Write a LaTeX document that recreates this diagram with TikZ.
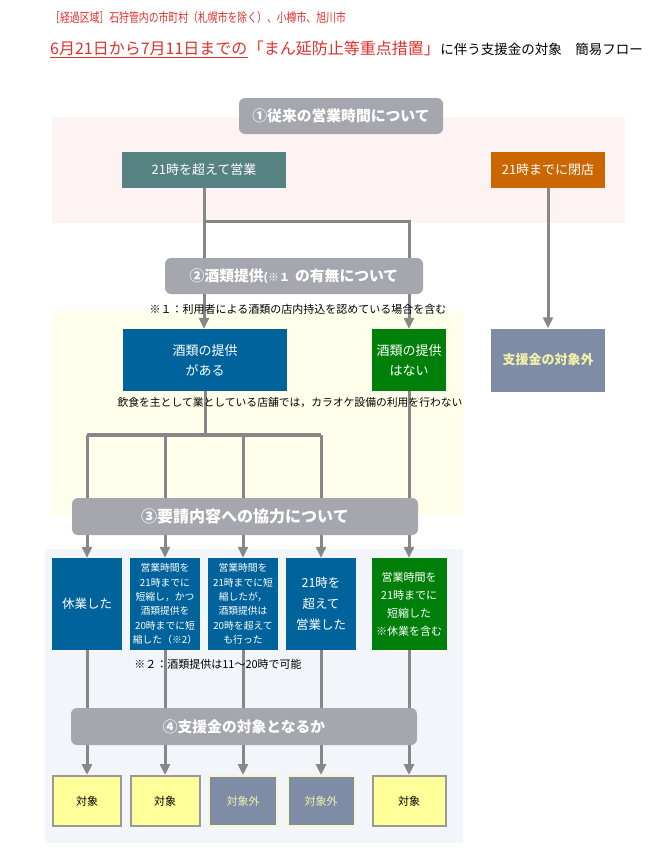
\documentclass[tikz,border=0pt]{standalone}
\usepackage{fontspec}
\setmainfont{Noto Sans CJK JP}
\newfontfamily\narrowjp[FakeStretch=0.77]{Noto Sans CJK JP}
\usepackage{xcolor}
\usetikzlibrary{positioning,arrows.meta,backgrounds}

\definecolor{hdrgray}{HTML}{A6A6AE}
\definecolor{tealc}{HTML}{568381}
\definecolor{orangec}{HTML}{CC6600}
\definecolor{slatec}{HTML}{7F8CA6}
\definecolor{bluec}{HTML}{00639C}
\definecolor{greenc}{HTML}{00800A}
\definecolor{okfill}{HTML}{FFFF99}
\definecolor{pinkbg}{HTML}{FEF3F3}
\definecolor{yellowbg}{HTML}{FFFFEB}
\definecolor{bluebg}{HTML}{F2F5FA}
\definecolor{linegray}{HTML}{878787}
\definecolor{titlered}{HTML}{E0302C}
\definecolor{paleyel}{HTML}{F2F2A6}

\begin{document}
\begin{tikzpicture}[x=1pt, y=-1pt,
    every node/.style={inner sep=0pt, align=center},
    hdrbox/.style={fill=hdrgray, rounded corners=6pt, text=white,
        font=\bfseries\fontsize{14.8}{16}\selectfont, minimum height=36pt},
    cell/.style={text=white, font=\fontsize{13}{20}\selectfont},
    note/.style={font=\fontsize{11}{12}\selectfont},
    okbox/.style={fill=okfill, draw=gray!80, line width=2pt,
        minimum height=50pt, font=\fontsize{11}{12}\selectfont},
    ngbox/.style={fill=slatec, draw=paleyel!60, line width=2pt, text=paleyel,
        minimum height=50pt, font=\fontsize{11}{12}\selectfont},
    link/.style={draw=linegray, line width=3pt},
    flow/.style={link, -{Triangle[length=11pt, width=10pt]}}
]
\useasboundingbox (0,0) rectangle (667,860);

% title
\node[anchor=west, text=titlered, font=\narrowjp\fontsize{12.8}{14}\selectfont] (areaT) at (50,18)
    {［経過区域］石狩管内の市町村（札幌市を除く）、小樽市、旭川市};
\node[anchor=base west, text=titlered, font=\fontsize{16}{18}\selectfont] (dateT) at (50,54)
    {6月21日から7月11日までの};
\node[anchor=base west, text=titlered, font=\fontsize{16}{18}\selectfont] (measT) at (dateT.base east)
    {「まん延防止等重点措置」};
\node[anchor=base west, font=\fontsize{13.5}{15}\selectfont] (restT) at (measT.base east)
    {に伴う支援金の対象　簡易フロー};
\draw[titlered, line width=1pt] ([yshift=-2pt]dateT.south west) -- ([yshift=-2pt]dateT.south east);

% step 1
\node[hdrbox, minimum width=204pt] (hdrA) at (341,116) {①従来の営業時間について};
\node[cell, fill=tealc, minimum width=164pt, minimum height=36pt] (late) at (204,170) {21時を超えて営業};
\node[cell, fill=orangec, minimum width=114pt, minimum height=36pt] (early) at (548,170) {21時までに閉店};

% step 2
\node[hdrbox, minimum width=258pt] (hdrB) at (294,276)
    {②酒類提供{\fontsize{11}{12}\selectfont(※１}\hspace{5pt}の有無について};
\node[note] (noteA) at (298,309) {※１：利用者による酒類の店内持込を認めている場合を含む};
\node[cell, fill=bluec, minimum width=164pt, minimum height=62pt] (withAl) at (205,360) {酒類の提供\\がある};
\node[cell, fill=greenc, minimum width=74pt, minimum height=62pt] (noAl) at (409,360) {酒類の提供\\はない};
\node[cell, fill=slatec, text=paleyel, font=\bfseries\fontsize{13}{15}\selectfont,
    minimum width=114pt, minimum height=63pt] (outA) at (548,360) {支援金の対象外};
\node[note, font=\fontsize{10.8}{12}\selectfont] (noteB) at (290,403)
    {飲食を主として業としている店舗では，カラオケ設備の利用を行わない};

% step 3
\node[hdrbox, minimum width=346pt, minimum height=37pt, font=\bfseries\fontsize{16}{18}\selectfont] (hdrC) at (245,516.5)
    {③要請内容への協力について};
\node[cell, fill=bluec, minimum width=70pt, minimum height=92pt, font=\fontsize{12.5}{20}\selectfont] (closed) at (87,604) {休業した};
\node[cell, fill=bluec, minimum width=70pt, minimum height=92pt, font=\fontsize{9.8}{14.3}\selectfont] (cutA) at (165,604)
    {営業時間を\\21時までに\\短縮し，かつ\\酒類提供を\\20時までに短\\縮した（※2）};
\node[cell, fill=bluec, minimum width=70pt, minimum height=92pt, font=\fontsize{9.8}{14.3}\selectfont] (cutB) at (243,604)
    {営業時間を\\21時までに短\\縮したが，\\酒類提供は\\20時を超えて\\も行った};
\node[cell, fill=bluec, minimum width=70pt, minimum height=92pt, font=\fontsize{12.5}{21}\selectfont] (over) at (321,604)
    {21時を\\超えて\\営業した};
\node[cell, fill=greenc, minimum width=75pt, minimum height=92pt, font=\fontsize{11}{18}\selectfont] (cutC) at (409,604)
    {営業時間を\\21時までに\\短縮した\\※休業を含む};
\node[note] (noteC) at (218,664) {※２：酒類提供は11〜20時で可能};

% step 4
\node[hdrbox, minimum width=346pt, minimum height=37pt] (hdrD) at (244,726.5) {④支援金の対象となるか};
\node[okbox, minimum width=68pt] (resA) at (87,801) {対象};
\node[okbox, minimum width=69pt] (resB) at (165,801) {対象};
\node[ngbox, minimum width=68pt] (resC) at (243,801) {対象外};
\node[ngbox, minimum width=67pt] (resD) at (321,801) {対象外};
\node[okbox, minimum width=73pt] (resE) at (409,801) {対象};

\coordinate (splitA) at (204,221);
\coordinate (splitB) at (205,435);

\begin{pgfonlayer}{background}
    \fill[pinkbg] (52,117) rectangle (625,223);
    \fill[yellowbg] (52,311) rectangle (463,515);
    \fill[bluebg] (45,549) rectangle (463,843);

    \draw[flow] (late.south) -- (late.south |- withAl.north);
    \draw[flow] (splitA) -| (noAl.north);
    \draw[flow] (early) -- (outA);
    \draw[link] (withAl.south) -- (splitB);
    \draw[link, line width=4pt] (closed |- splitB) -- (over |- splitB);
    \foreach \n in {closed, cutA, cutB, over}
        \draw[flow] (\n |- splitB) -- (\n.north);
    \draw[flow] (noAl) -- (cutC);
    \foreach \a/\b in {closed/resA, cutA/resB, cutB/resC, over/resD, cutC/resE}
        \draw[flow] (\a) -- (\b);
\end{pgfonlayer}

\end{tikzpicture}
\end{document}
